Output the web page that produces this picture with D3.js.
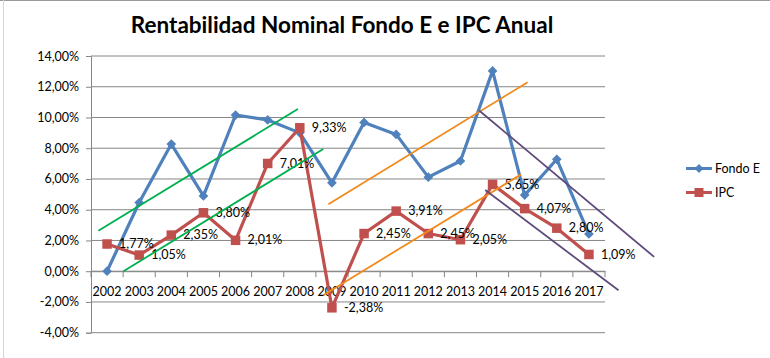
<!DOCTYPE html>
<html><head><meta charset="utf-8">
<script src="https://cdn.jsdelivr.net/npm/d3@7"></script>
<style>
body{margin:0;background:#fff;}
svg{display:block;font-family:Lato, "Open Sans", sans-serif;}
</style></head>
<body><svg id="c" width="770" height="358"></svg>
<script>
const years = ["2002","2003","2004","2005","2006","2007","2008","2009","2010","2011","2012","2013","2014","2015","2016","2017"];
const fondoE = [0.00, 4.47, 8.27, 4.90, 10.16, 9.84, 9.00, 5.75, 9.68, 8.90, 6.12, 7.17, 13.03, 4.95, 7.28, 2.42];
const ipc = [1.77, 1.05, 2.35, 3.80, 2.01, 7.01, 9.33, -2.38, 2.45, 3.91, 2.45, 2.05, 5.65, 4.07, 2.80, 1.09];
const yTicks = [-4, -2, 0, 2, 4, 6, 8, 10, 12, 14];
const seriesNames = ["Fondo E", "IPC"];
const title = "Rentabilidad Nominal Fondo E e IPC Anual";
// hand-drawn trend lines: [category index, value] endpoints
const trendGreen = [[[-0.27, 2.63], [5.94, 10.55]], [[0.51, 0.0], [6.73, 7.95]]];
const trendOrange = [[[6.89, 4.36], [13.09, 12.29]], [[6.73, -1.56], [12.89, 6.30]]];
const trendPurple = [[[11.59, 10.44], [17.03, 0.93]], [[11.77, 5.28], [15.92, -1.24]]];

const fmt = v => v.toFixed(2).replace(".", ",") + "%";
const svg = d3.select("#c");
const L = 91, R = 605, T = 56, B = 332.7;
const x = d3.scaleBand().domain(years).range([L, R]);
const xi = d3.scaleLinear().domain([0, 1]).range([L + x.bandwidth()/2, L + x.bandwidth()*1.5]);
const y = d3.scaleLinear().domain([-4, 14]).range([B, T]);
const cx = i => x(years[i]) + x.bandwidth()/2;
const FS = 12.5;

// frame edges
svg.append("line").attr("x1",0).attr("x2",770).attr("y1",0.5).attr("y2",0.5).attr("stroke","#9a9a9a");
svg.append("line").attr("x1",3.5).attr("x2",3.5).attr("y1",0).attr("y2",358).attr("stroke","#c9dbe0");

// title
svg.append("text").attr("x", 342).attr("y", 33).attr("text-anchor","middle")
  .attr("font-size", 22.5).attr("font-weight","bold").attr("fill","#000").text(title);

// gridlines
svg.append("g").selectAll("line").data(yTicks).join("line")
  .attr("x1", L).attr("x2", R).attr("y1", d => y(d)).attr("y2", d => y(d))
  .attr("stroke", "#868686").attr("stroke-width", 1);

// y axis
const ya = svg.append("g").attr("transform", `translate(${L},0)`)
  .call(d3.axisLeft(y).tickValues(yTicks).tickSize(5).tickFormat(fmt));
ya.select(".domain").attr("stroke","#868686");
ya.selectAll(".tick line").attr("stroke","#868686");
ya.selectAll(".tick text").attr("font-size",FS).attr("font-family","Lato").attr("fill","#000").attr("x",-12);

// x axis at 0
const xa = svg.append("g").attr("transform", `translate(0,${y(0)})`)
  .call(d3.axisBottom(x).tickSize(0).tickSizeOuter(0));
xa.select(".domain").attr("stroke","#868686");
xa.selectAll(".tick text").attr("font-size",FS).attr("font-family","Lato").attr("fill","#000").attr("y",16);
xa.selectAll(".bt").data(d3.range(years.length + 1)).join("line")
  .attr("x1", i => L + i * x.bandwidth()).attr("x2", i => L + i * x.bandwidth())
  .attr("y1", 0).attr("y2", 6).attr("stroke","#868686");

const line = d3.line().x((d, i) => cx(i)).y(d => y(d));
// Fondo E
svg.append("path").datum(fondoE).attr("d", line).attr("fill","none")
  .attr("stroke","#4F81BD").attr("stroke-width",3.2).attr("stroke-linejoin","round");
svg.append("g").selectAll("path").data(fondoE).join("path")
  .attr("transform", (d, i) => `translate(${cx(i)},${y(d)})`)
  .attr("d", d3.symbol(d3.symbolDiamond2, 60)()).attr("fill","#4F81BD");

// IPC
svg.append("path").datum(ipc).attr("d", line).attr("fill","none")
  .attr("stroke","#C0504D").attr("stroke-width",3.2).attr("stroke-linejoin","round");
svg.append("g").selectAll("rect").data(ipc).join("rect")
  .attr("x", (d, i) => cx(i) - 4.75).attr("y", d => y(d) - 4.75)
  .attr("width", 9.5).attr("height", 9.5).attr("fill","#C0504D");
svg.append("g").selectAll("text").data(ipc).join("text")
  .attr("x", (d, i) => cx(i) + 12).attr("y", d => y(d) + 1)
  .attr("dominant-baseline","middle").attr("font-size",FS).attr("fill","#000")
  .text(fmt);

// trend lines
const tl = (segs, color) => svg.append("g").selectAll("line").data(segs).join("line")
  .attr("x1", s => xi(s[0][0])).attr("y1", s => y(s[0][1]))
  .attr("x2", s => xi(s[1][0])).attr("y2", s => y(s[1][1]))
  .attr("stroke", color).attr("stroke-width", 1.8);
tl(trendGreen, "#00B050");
tl(trendOrange, "#F28A1C");
tl(trendPurple, "#5F4B7B");

// legend
const lg = svg.append("g");
const lgY = [168.5, 192.5];
lg.selectAll("line").data(seriesNames).join("line")
  .attr("x1", 686).attr("x2", 712).attr("y1", (d,i) => lgY[i]).attr("y2", (d,i) => lgY[i])
  .attr("stroke", (d,i) => i ? "#C0504D" : "#4F81BD").attr("stroke-width", 3);
lg.append("path").attr("transform", `translate(699,${lgY[0]})`)
  .attr("d", d3.symbol(d3.symbolDiamond2, 50)()).attr("fill","#4F81BD");
lg.append("rect").attr("x", 694.5).attr("y", lgY[1]-4.5).attr("width", 9).attr("height", 9).attr("fill","#C0504D");
lg.selectAll("text").data(seriesNames).join("text")
  .attr("x", 715).attr("y", (d,i) => lgY[i] + 1).attr("dominant-baseline","middle")
  .attr("font-size", FS).attr("fill","#000").text(d => d);
</script></body></html>
